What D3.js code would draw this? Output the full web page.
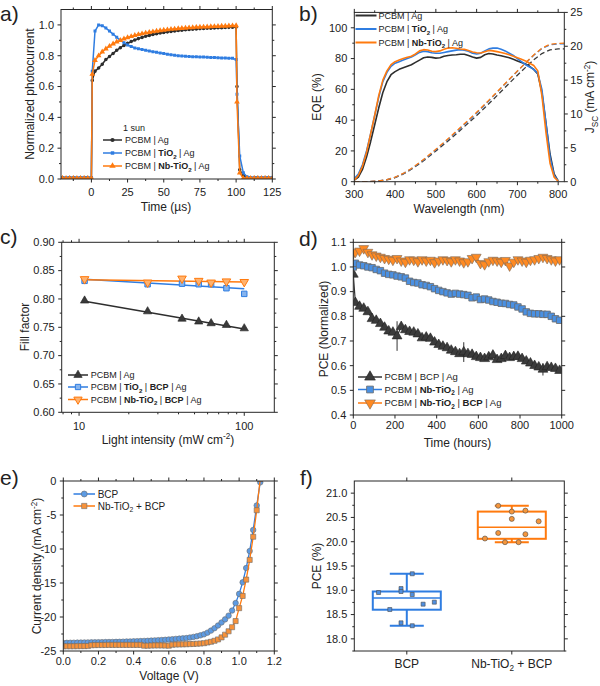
<!DOCTYPE html>
<html><head><meta charset="utf-8">
<script src="https://cdn.jsdelivr.net/npm/d3@7"></script>
<style>
body{margin:0;background:#fff}
svg{display:block}
text{font-family:Arial,"Liberation Sans",Helvetica,sans-serif;fill:#222}
</style></head><body>
<svg id="chart" width="600" height="686"></svg>
<script>
// ---------------- DATA ----------------
// (a) transient photocurrent
const aTime = [-20,-17.5,-15,-12.5,-10,-7.5,-5,-2.5,0,0.6,2.5,5,7.5,10,12.5,15,17.5,20,22.5,25,27.5,30,32.5,35,37.5,40,42.5,45,47.5,50,52.5,55,57.5,60,62.5,65,67.5,70,72.5,75,77.5,80,82.5,85,87.5,90,92.5,95,97.5,100,100.6,102.5,105,107.5,110,112.5,115,117.5,120,122.5,125];
const aBlack = [0.01,0.008,0.01,0.01,0.008,0.01,0.009,0.01,0.01,0.64,0.70,0.72,0.745,0.775,0.795,0.815,0.835,0.852,0.867,0.88,0.892,0.902,0.911,0.919,0.926,0.932,0.938,0.943,0.947,0.951,0.955,0.958,0.961,0.964,0.966,0.968,0.97,0.972,0.974,0.976,0.977,0.978,0.979,0.98,0.981,0.982,0.983,0.984,0.985,0.986,0.6,0.06,0.02,0.01,0.008,0.01,0.01,0.008,0.01,0.009,0.01];
const aBlue = [0.01,0.01,0.008,0.01,0.01,0.009,0.01,0.01,0.01,0.7,0.96,1.0,0.995,0.98,0.96,0.94,0.92,0.9,0.885,0.87,0.86,0.85,0.845,0.84,0.835,0.83,0.826,0.822,0.818,0.814,0.81,0.806,0.803,0.8,0.798,0.796,0.795,0.794,0.793,0.792,0.791,0.79,0.789,0.788,0.787,0.786,0.785,0.784,0.783,0.775,0.55,0.15,0.04,0.015,0.01,0.01,0.008,0.01,0.01,0.009,0.01];
const aOrange = [0.005,0.005,0.005,0.005,0.005,0.005,0.005,0.005,0.005,0.68,0.77,0.8,0.825,0.845,0.862,0.877,0.89,0.9,0.91,0.918,0.925,0.932,0.938,0.943,0.948,0.952,0.956,0.96,0.963,0.966,0.969,0.972,0.974,0.976,0.978,0.98,0.982,0.983,0.985,0.986,0.987,0.988,0.989,0.99,0.991,0.992,0.993,0.994,0.995,0.996,0.5,0.04,0.005,0.005,0.005,0.005,0.005,0.005,0.005,0.005,0.005];

// (b) EQE and integrated Jsc
const bWave = [300,310,320,330,340,350,360,370,380,390,400,410,420,430,440,450,460,470,480,490,500,510,520,530,540,550,560,570,580,590,600,610,620,630,640,650,660,670,680,690,700,710,720,730,740,750,760,770,780,790,800];
const eqeBlack = [1,3,8,16,26,37,48,58,65,69.5,71.5,73,74,75,76,77.5,79,80.5,81,80.8,80.3,80.5,81.5,82,82.3,82.5,82.8,82.8,82,81,80.3,80.8,82.5,83.3,83,82.3,81.8,81.2,80.5,79.5,78.5,77.5,76.5,75,73,70,58,38,18,5,0.5];
const eqeBlue = [2,5,11,20,31,43,55,65,71,75,77,78,79,80,81,82.5,84,84.8,84.5,83.8,83.5,83.5,84,84.5,85,85.5,85.8,85.5,84.8,83.5,83,83.5,85,86.3,86.8,86.8,86,85,83.5,82,80,78,76,74.5,73,70.5,60,38,16,4,0.5];
const eqeOrange = [1,4,10,19,31,43,56,66,72,76,78,79,80,80.8,81.5,83,85,85.8,85.6,84.8,84.5,85,86,86.8,87,86.7,86.2,86,85.3,84.3,83.8,83.6,84.5,85.3,85,84.5,84,83.3,82.5,81.5,80.5,79.5,78.5,77,75.5,72,56,32,12,3,0.3];
const jWave = [300,320,340,360,380,400,420,440,460,480,500,520,540,560,580,600,620,640,660,680,700,720,740,760,780,800,815];
const jscBlack = [0,0,0.02,0.09,0.26,0.59,1.13,1.83,2.65,3.57,4.53,5.52,6.54,7.6,8.68,9.77,10.92,12.11,13.32,14.53,15.73,16.88,17.99,18.92,19.46,19.6,19.6];
const jscBlue = [0,0.01,0.03,0.11,0.3,0.65,1.2,1.92,2.77,3.72,4.71,5.73,6.78,7.88,9.0,10.13,11.32,12.56,13.82,15.08,16.32,17.51,18.66,19.65,20.22,20.35,20.35];
const jscOrange = [0,0.01,0.03,0.11,0.3,0.66,1.22,1.95,2.82,3.78,4.78,5.82,6.89,8.0,9.12,10.25,11.43,12.65,13.88,15.12,16.35,17.55,18.72,19.72,20.3,20.43,20.45];

// (c) fill factor vs light intensity
const cIntensity = [10.8,26,42,53,63,78,100];
const ffBlack = [0.797,0.778,0.765,0.760,0.757,0.754,0.748];
const ffBlue = [0.832,0.826,0.827,0.826,0.826,0.819,0.809];
const ffOrange = [0.835,0.829,0.836,0.832,0.829,0.831,0.830];
const fitX = [10.8,100];
const fitBlack = [0.796,0.747];
const fitBlue = [0.835,0.818];
const fitOrange = [0.834,0.830];

// (d) stability
const dTime = [0,10,30,50,70,90,110,130,150,170,190,210,230,250,270,290,310,330,350,370,390,410,430,450,470,490,510,530,550,570,590,610,630,650,670,690,710,730,750,770,790,810,830,850,870,890,910,930,950,970,990];
const pceBlack = [0.97,0.855,0.84,0.832,0.818,0.79,0.783,0.77,0.755,0.74,0.735,0.72,0.758,0.745,0.738,0.735,0.728,0.712,0.715,0.71,0.695,0.685,0.678,0.672,0.662,0.656,0.648,0.655,0.648,0.645,0.636,0.632,0.628,0.635,0.642,0.624,0.628,0.64,0.632,0.636,0.637,0.628,0.618,0.61,0.6,0.594,0.585,0.595,0.592,0.588,0.58];
const errBlack = [0,0.005,0.005,0.005,0.005,0.005,0.005,0.005,0.005,0.005,0.005,0.06,0.005,0.005,0.005,0.005,0.005,0.005,0.005,0.005,0.005,0.005,0.005,0.005,0.005,0.005,0.005,0.04,0.005,0.005,0.005,0.005,0.005,0.005,0.005,0.005,0.005,0.005,0.005,0.005,0.005,0.005,0.005,0.005,0.005,0.005,0.025,0.005,0.005,0.005,0.005];
const pceBlue = [1.0,1.015,1.008,1.005,1.0,0.997,0.99,0.985,0.975,0.97,0.968,0.963,0.96,0.955,0.942,0.937,0.935,0.928,0.925,0.92,0.912,0.905,0.9,0.895,0.89,0.893,0.89,0.888,0.885,0.875,0.878,0.868,0.87,0.866,0.86,0.857,0.853,0.852,0.848,0.846,0.838,0.83,0.818,0.812,0.81,0.81,0.808,0.808,0.8,0.79,0.784];
const pceOrange = [1.055,1.06,1.065,1.075,1.06,1.05,1.045,1.04,1.035,1.032,1.028,1.035,1.025,1.02,1.03,1.028,1.022,1.03,1.025,1.028,1.018,1.025,1.03,1.027,1.022,1.03,1.025,1.018,1.022,1.035,1.04,1.015,1.01,1.022,1.028,1.025,1.02,1.027,1.005,1.02,1.03,1.025,1.02,1.028,1.03,1.035,1.04,1.035,1.03,1.025,1.03];

// (e) J-V curves
const eVolt = [0,0.02,0.04,0.06,0.08,0.1,0.12,0.14,0.16,0.18,0.2,0.22,0.24,0.26,0.28,0.3,0.32,0.34,0.36,0.38,0.4,0.42,0.44,0.46,0.48,0.5,0.52,0.54,0.56,0.58,0.6,0.62,0.64,0.66,0.68,0.7,0.72,0.74,0.76,0.78,0.8,0.82,0.84,0.86,0.88,0.9,0.92,0.94,0.96,0.98,1.0,1.02,1.04,1.06,1.08,1.1,1.12];
const jBCP = [-23.82,-23.8,-23.79,-23.78,-23.77,-23.76,-23.75,-23.74,-23.73,-23.72,-23.71,-23.7,-23.69,-23.68,-23.67,-23.66,-23.65,-23.63,-23.61,-23.6,-23.58,-23.56,-23.54,-23.52,-23.5,-23.47,-23.44,-23.41,-23.38,-23.35,-23.31,-23.27,-23.22,-23.18,-23.14,-23.1,-23.02,-22.93,-22.83,-22.7,-22.55,-22.3,-22.0,-21.65,-21.25,-20.8,-20.35,-19.8,-19.05,-17.95,-16.6,-14.9,-12.8,-10.3,-7.2,-3.6,-0.2];
const jNb = [-24.3,-24.3,-24.3,-24.3,-24.29,-24.28,-24.28,-24.27,-24.15,-24.13,-24.12,-24.12,-24.11,-24.1,-24.1,-24.1,-24.1,-24.1,-24.1,-24.1,-24.1,-24.1,-24.1,-24.22,-24.22,-24.2,-24.18,-24.18,-24.18,-24.2,-24.22,-24.08,-24.05,-24.03,-24.02,-24.0,-23.98,-23.96,-23.93,-23.9,-23.85,-23.75,-23.65,-23.5,-23.3,-23.0,-22.6,-22.1,-21.5,-20.6,-18.7,-16.9,-14.5,-11.6,-8.2,-4.3,0.3];

// (f) PCE statistics
const fCats = ['BCP','Nb-TiO2 + BCP'];
const bcpPCE = [18.954,19.036,18.975,18.913,18.604,18.714,18.755,18.33,18.27,19.34];
const bcpSpread = [-0.83,-0.17,-0.17,0.16,-0.5,0.48,0.81,-0.17,0.16,0.16];
const nbPCE = [20.74,20.62,20.64,20.47,20.42,20.18,20.155,20.066,19.99,19.99];
const nbSpread = [-0.4,0,0.4,0,0.79,-0.4,0.4,-0.79,-0.2,0.2];
const boxLow = [18.27,19.99], boxQ1 = [18.6,20.06], boxMed = [18.84,20.30], boxQ3 = [18.975,20.62], boxHigh = [19.34,20.74];

// labels
const aLegend = [[{t:'PCBM | Ag'}],[{t:'PCBM | '},{t:'TiO',b:1},{t:'2',b:1,sub:1},{t:' | Ag'}],[{t:'PCBM | '},{t:'Nb-TiO',b:1},{t:'2',b:1,sub:1},{t:' | Ag'}]];
const cLegend = [[{t:'PCBM | Ag'}],[{t:'PCBM | '},{t:'TiO',b:1},{t:'2',b:1,sub:1},{t:' | '},{t:'BCP',b:1},{t:' | Ag'}],[{t:'PCBM | '},{t:'Nb-TiO',b:1},{t:'2',b:1,sub:1},{t:' | '},{t:'BCP',b:1},{t:' | Ag'}]];
const dLegend = [[{t:'PCBM | BCP | Ag'}],[{t:'PCBM | '},{t:'Nb-TiO',b:1},{t:'2',b:1,sub:1},{t:' | Ag'}],[{t:'PCBM | '},{t:'Nb-TiO',b:1},{t:'2',b:1,sub:1},{t:' | '},{t:'BCP',b:1},{t:' | Ag'}]];
const eLegend = [[{t:'BCP'}],[{t:'Nb-TiO'},{t:'2',sub:1},{t:' + BCP'}]];

// ---------------- DRAWING ----------------
const svg = d3.select('#chart');
const BLACK = '#2e2e2e', BLUE = '#2f7de1', ORANGE = '#ff7a0e', AX = '#262626';
const TICKFS = 11, TITLEFS = 12;

function rich(sel, parts, fs) {
  let cur = 0;
  parts.forEach(p => {
    const ts = sel.append('tspan').text(p.t);
    const target = p.sub ? fs * 0.28 : (p.sup ? -fs * 0.38 : 0);
    if (target !== cur) { ts.attr('dy', target - cur); cur = target; }
    if (p.sub || p.sup) ts.attr('font-size', fs * 0.68);
    if (p.b) ts.attr('font-weight', 'bold');
  });
}

function axes(g, x, y, o) {
  const [xl, xr] = x.range(); const [yb, yt] = y.range();
  const s = g.append('g').attr('stroke', AX).attr('stroke-width', 1).attr('fill', 'none');
  const seg = (x1, y1, x2, y2) => s.append('line').attr('x1', x1).attr('y1', y1).attr('x2', x2).attr('y2', y2);
  const ML = 3.5, ml = 2;
  const xOff = o.xOff || 16.5;
  (o.xMajor || []).forEach(v => { const p = x(v); seg(p, yb, p, yb + ML); seg(p, yt, p, yt - ML); });
  (o.xMinor || []).forEach(v => { const p = x(v); seg(p, yb, p, yb + ml); seg(p, yt, p, yt - ml); });
  (o.yMajor || []).forEach(v => { const p = y(v); seg(xl, p, xl - ML, p); if (!o.yR) seg(xr, p, xr + ML, p); });
  (o.yMinor || []).forEach(v => { const p = y(v); seg(xl, p, xl - ml, p); if (!o.yR) seg(xr, p, xr + ml, p); });
  if (o.yR) {
    o.yRMajor.forEach(v => { const p = o.yR(v); seg(xr, p, xr + ML, p); });
    o.yRMinor.forEach(v => { const p = o.yR(v); seg(xr, p, xr + ml, p); });
    o.yRMajor.forEach(v => g.append('text').attr('x', xr + 6).attr('y', o.yR(v)).attr('dy', '0.35em')
      .attr('font-size', TICKFS).text(o.yRFmt(v)));
  }
  s.append('rect').attr('x', xl).attr('y', yt).attr('width', xr - xl).attr('height', yb - yt);
  (o.xMajor || []).forEach(v => {
    const t = g.append('text').attr('x', x(v)).attr('y', yb + xOff).attr('text-anchor', 'middle').attr('font-size', o.xFs || TICKFS);
    if (o.xRich) rich(t, o.xRich(v), o.xFs || TICKFS); else t.text(o.xFmt(v));
  });
  (o.yMajor || []).forEach(v => g.append('text').attr('x', xl - 7).attr('y', y(v)).attr('dy', '0.35em')
    .attr('text-anchor', 'end').attr('font-size', TICKFS).text(o.yFmt(v)));
}

function xTitle(parts, cx, y) {
  const t = svg.append('text').attr('x', cx).attr('y', y).attr('text-anchor', 'middle').attr('font-size', TITLEFS);
  rich(t, parts, TITLEFS);
}
function yTitle(parts, x, cy) {
  const t = svg.append('text').attr('transform', `translate(${x},${cy}) rotate(-90)`)
    .attr('text-anchor', 'middle').attr('dy', '0.35em').attr('font-size', TITLEFS);
  rich(t, parts, TITLEFS);
}
function panelLabel(txt, x, y) {
  svg.append('text').attr('x', x).attr('y', y).attr('font-size', 21).text(txt);
}
let clipN = 0;
function clipped(x, y) {
  const id = 'clip' + (clipN++);
  const [xl, xr] = x.range(); const [yb, yt] = y.range();
  svg.append('clipPath').attr('id', id).append('rect').attr('x', xl).attr('y', yt).attr('width', xr - xl).attr('height', yb - yt);
  return svg.append('g').attr('clip-path', `url(#${id})`);
}
function sym(type, size) {
  return d3.symbol().type(type).size(size)();
}
function markers(g, xs, ys, xf, yf, type, size, fill, stroke, sw, rot) {
  const p = sym(type, size);
  g.append('g').selectAll('path').data(ys).join('path')
    .attr('d', p)
    .attr('transform', (d, i) => `translate(${xf(xs[i])},${yf(d)})` + (rot ? ' rotate(180)' : ''))
    .attr('fill', fill).attr('stroke', stroke).attr('stroke-width', sw);
}
function line(g, xs, ys, xf, yf, color, w, dash) {
  const l = d3.line().x((d, i) => xf(xs[i])).y(d => yf(d));
  const p = g.append('path').attr('d', l(ys)).attr('fill', 'none').attr('stroke', color).attr('stroke-width', w).attr('stroke-linejoin', 'round');
  if (dash) p.attr('stroke-dasharray', dash);
}
function legend(items, x0, x1, tx, ys, fs) {
  items.forEach((it, i) => {
    const y = ys[i];
    svg.append('line').attr('x1', x0).attr('x2', x1).attr('y1', y).attr('y2', y).attr('stroke', it.color).attr('stroke-width', it.lw || 1.5);
    if (it.type) svg.append('path').attr('d', sym(it.type, it.size))
      .attr('transform', `translate(${(x0 + x1) / 2},${y})` + (it.rot ? ' rotate(180)' : ''))
      .attr('fill', it.fill).attr('stroke', it.stroke).attr('stroke-width', it.sw || 0.6);
    const t = svg.append('text').attr('x', tx).attr('y', y).attr('dy', '0.35em').attr('font-size', fs);
    rich(t, it.parts, fs);
  });
}
const f1 = d3.format('.1f'), f2 = d3.format('.2f');

// ---------- panel a ----------
{
  const x = d3.scaleLinear().domain([-21, 125]).range([61, 272.3]);
  const y = d3.scaleLinear().domain([0, 1.1]).range([179, 9.5]);
  const g = clipped(x, y);
  line(g, aTime, aBlack, x, y, BLACK, 1.5);
  markers(g, aTime, aBlack, x, y, d3.symbolCircle, 10, BLACK, 'none', 0);
  line(g, aTime, aBlue, x, y, BLUE, 1.5);
  markers(g, aTime, aBlue, x, y, d3.symbolSquare, 9, BLUE, 'none', 0);
  line(g, aTime, aOrange, x, y, ORANGE, 1.5);
  markers(g, aTime, aOrange, x, y, d3.symbolTriangle, 14, ORANGE, 'none', 0);
  axes(svg.append('g'), x, y, {
    xMajor: [0, 25, 50, 75, 100, 125], xMinor: [-12.5, 12.5, 37.5, 62.5, 87.5, 112.5], xFmt: d => d, xOff: 16.5,
    yMajor: [0, 0.2, 0.4, 0.6, 0.8, 1.0], yMinor: [0.1, 0.3, 0.5, 0.7, 0.9], yFmt: f1
  });
  svg.append('text').attr('x', 123).attr('y', 128).attr('dy', '0.35em').attr('font-size', 9).text('1 sun');
  legend([
    {parts: aLegend[0], color: BLACK, type: d3.symbolCircle, size: 14, fill: BLACK, stroke: 'none'},
    {parts: aLegend[1], color: BLUE, type: d3.symbolSquare, size: 12, fill: BLUE, stroke: 'none'},
    {parts: aLegend[2], color: ORANGE, type: d3.symbolTriangle, size: 18, fill: ORANGE, stroke: 'none'}
  ], 103, 122, 125, [140, 153, 166], 9);
  yTitle([{t: 'Normalized photocurrent'}], 30, 94);
  xTitle([{t: 'Time (µs)'}], 166, 211);
  panelLabel('a)', 0, 21);
}

// ---------- panel b ----------
{
  const x = d3.scaleLinear().domain([300, 815]).range([354.3, 564.3]);
  const y = d3.scaleLinear().domain([0, 110]).range([181.7, 12.4]);
  const yR = d3.scaleLinear().domain([0, 25]).range([181.7, 12.4]);
  const g = clipped(x, y);
  line(g, jWave, jscBlack, x, yR, '#3a3a3a', 1.3, '5,3');
  line(g, jWave, jscBlue, x, yR, BLUE, 1.3, '5,3');
  line(g, jWave, jscOrange, x, yR, ORANGE, 1.3, '5,3');
  line(g, bWave, eqeBlack, x, y, BLACK, 1.6);
  line(g, bWave, eqeBlue, x, y, BLUE, 1.6);
  line(g, bWave, eqeOrange, x, y, ORANGE, 1.6);
  axes(svg.append('g'), x, y, {
    xMajor: [300, 400, 500, 600, 700, 800], xMinor: [350, 450, 550, 650, 750], xFmt: d => d, xOff: 15.8,
    yMajor: [0, 20, 40, 60, 80, 100], yMinor: [10, 30, 50, 70, 90], yFmt: d => d,
    yR: yR, yRMajor: [0, 5, 10, 15, 20, 25], yRMinor: [2.5, 7.5, 12.5, 17.5, 22.5], yRFmt: d => d
  });
  legend([
    {parts: aLegend[0], color: BLACK, lw: 2},
    {parts: aLegend[1], color: BLUE, lw: 2},
    {parts: aLegend[2], color: ORANGE, lw: 2}
  ], 355.5, 376.5, 378.5, [15.5, 29, 42.5], 9);
  yTitle([{t: 'EQE (%)'}], 316.5, 97);
  yTitle([{t: 'J'}, {t: 'SC', sub: 1}, {t: ' (mA cm'}, {t: '-2', sup: 1}, {t: ')'}], 590, 97);
  xTitle([{t: 'Wavelength (nm)'}], 459, 213);
  panelLabel('b)', 299, 21);
}

// ---------- panel c ----------
{
  const x = d3.scaleLog().domain([7.85, 152]).range([61.7, 274.3]);
  const y = d3.scaleLinear().domain([0.6, 0.9]).range([412.3, 242.3]);
  const g = clipped(x, y);
  line(g, fitX, fitBlack, x, y, BLACK, 1.5);
  line(g, fitX, fitBlue, x, y, BLUE, 1.5);
  line(g, fitX, fitOrange, x, y, ORANGE, 1.5);
  markers(g, cIntensity, ffBlack, x, y, d3.symbolTriangle, 30, '#3a3a3a', '#222', 0.6);
  markers(g, cIntensity, ffBlue, x, y, d3.symbolSquare, 30, '#86b4ee', BLUE, 1);
  markers(g, cIntensity, ffOrange, x, y, d3.symbolTriangle, 32, '#ffb26e', ORANGE, 1, true);
  axes(svg.append('g'), x, y, {
    xMajor: [10, 100], xMinor: [8, 9, 20, 30, 40, 50, 60, 70, 80, 90], xFmt: d => d, xOff: 17.5,
    yMajor: [0.6, 0.65, 0.7, 0.75, 0.8, 0.85, 0.9], yMinor: [0.625, 0.675, 0.725, 0.775, 0.825, 0.875], yFmt: f2
  });
  legend([
    {parts: cLegend[0], color: BLACK, type: d3.symbolTriangle, size: 30, fill: '#3a3a3a', stroke: '#222'},
    {parts: cLegend[1], color: BLUE, type: d3.symbolSquare, size: 28, fill: '#86b4ee', stroke: BLUE, sw: 1},
    {parts: cLegend[2], color: ORANGE, type: d3.symbolTriangle, size: 30, fill: '#ffb26e', stroke: ORANGE, sw: 1, rot: true}
  ], 68, 88, 90.7, [375, 387, 399.5], 9);
  yTitle([{t: 'Fill factor'}], 25, 327);
  xTitle([{t: 'Light intensity (mW cm'}, {t: '-2', sup: 1}, {t: ')'}], 168, 443.5);
  panelLabel('c)', 0, 244);
}

// ---------- panel d ----------
{
  const x = d3.scaleLinear().domain([0, 1000]).range([353.3, 561.7]);
  const y = d3.scaleLinear().domain([0.4, 1.1]).range([415, 242.3]);
  const g = clipped(x, y);
  g.append('g').selectAll('line').data(pceBlack).join('line')
    .attr('x1', (d, i) => x(dTime[i])).attr('x2', (d, i) => x(dTime[i]))
    .attr('y1', (d, i) => y(d - errBlack[i])).attr('y2', (d, i) => y(d + errBlack[i]))
    .attr('stroke', '#333').attr('stroke-width', 1);
  line(g, dTime, pceBlack, x, y, '#333', 1.2);
  markers(g, dTime, pceBlack, x, y, d3.symbolTriangle, 42, '#3b3b3b', '#222', 0.6);
  line(g, dTime, pceBlue, x, y, BLUE, 1.2);
  markers(g, dTime, pceBlue, x, y, d3.symbolSquare, 42, '#4a90e2', '#6a6a6a', 0.8);
  line(g, dTime, pceOrange, x, y, ORANGE, 1.2);
  markers(g, dTime, pceOrange, x, y, d3.symbolTriangle, 42, '#ff8a22', '#7a6a5a', 0.6, true);
  axes(svg.append('g'), x, y, {
    xMajor: [0, 200, 400, 600, 800, 1000], xMinor: [], xFmt: d => d, xOff: 13.5,
    yMajor: [0.4, 0.5, 0.6, 0.7, 0.8, 0.9, 1.0, 1.1], yMinor: [], yFmt: f1
  });
  legend([
    {parts: dLegend[0], color: '#333', type: d3.symbolTriangle, size: 50, fill: '#3b3b3b', stroke: '#222'},
    {parts: dLegend[1], color: BLUE, type: d3.symbolSquare, size: 46, fill: '#4a90e2', stroke: '#6a6a6a', sw: 0.8},
    {parts: dLegend[2], color: ORANGE, type: d3.symbolTriangle, size: 50, fill: '#ff8a22', stroke: '#7a6a5a', rot: true}
  ], 358, 382, 384.5, [377, 389.5, 403], 9.5);
  yTitle([{t: 'PCE (Normalized)'}], 323.5, 329);
  xTitle([{t: 'Time (hours)'}], 457.5, 446.5);
  panelLabel('d)', 299, 246);
}

// ---------- panel e ----------
{
  const x = d3.scaleLinear().domain([0, 1.2]).range([63.3, 274.3]);
  const y = d3.scaleLinear().domain([-25, 0]).range([651, 481]);
  const g = clipped(x, y);
  line(g, eVolt, jBCP, x, y, BLUE, 1.3);
  markers(g, eVolt, jBCP, x, y, d3.symbolCircle, 24, '#5d9be3', '#6b6b6b', 0.6);
  line(g, eVolt, jNb, x, y, ORANGE, 1.3);
  markers(g, eVolt, jNb, x, y, d3.symbolSquare, 26, '#f7923a', '#6b6b6b', 0.6);
  axes(svg.append('g'), x, y, {
    xMajor: [0, 0.2, 0.4, 0.6, 0.8, 1.0, 1.2], xMinor: [0.1, 0.3, 0.5, 0.7, 0.9, 1.1], xFmt: f1, xOff: 13.5,
    yMajor: [-25, -20, -15, -10, -5, 0], yMinor: [-22.5, -17.5, -12.5, -7.5, -2.5], yFmt: d => String(d)
  });
  legend([
    {parts: eLegend[0], color: BLUE, type: d3.symbolCircle, size: 28, fill: '#5d9be3', stroke: '#6b6b6b'},
    {parts: eLegend[1], color: ORANGE, type: d3.symbolSquare, size: 28, fill: '#f7923a', stroke: '#6b6b6b'}
  ], 73.5, 95, 97.7, [494, 506], 10);
  yTitle([{t: 'Current density (mA cm'}, {t: '-2', sup: 1}, {t: ')'}], 37, 566);
  xTitle([{t: 'Voltage (V)'}], 169, 680);
  panelLabel('e)', 0, 485);
}

// ---------- panel f ----------
{
  const x = d3.scalePoint().domain(fCats).range([354.3, 564.3]).padding(0.5);
  const y = d3.scaleLinear().domain([17.75, 21.25]).range([651, 481]);
  const g = svg.append('g');
  const colors = [BLUE, ORANGE], fills = ['#4f8fe0', '#f5963c'];
  const boxW = 68, capW = 34;
  fCats.forEach((c, i) => {
    const cx = x(c), col = colors[i];
    const bg = g.append('g').attr('stroke', col).attr('stroke-width', 2).attr('fill', 'none');
    bg.append('line').attr('x1', cx).attr('x2', cx).attr('y1', y(boxHigh[i])).attr('y2', y(boxQ3[i]));
    bg.append('line').attr('x1', cx).attr('x2', cx).attr('y1', y(boxLow[i])).attr('y2', y(boxQ1[i]));
    bg.append('line').attr('x1', cx - capW / 2).attr('x2', cx + capW / 2).attr('y1', y(boxHigh[i])).attr('y2', y(boxHigh[i]));
    bg.append('line').attr('x1', cx - capW / 2).attr('x2', cx + capW / 2).attr('y1', y(boxLow[i])).attr('y2', y(boxLow[i]));
    bg.append('rect').attr('x', cx - boxW / 2).attr('y', y(boxQ3[i])).attr('width', boxW).attr('height', y(boxQ1[i]) - y(boxQ3[i]));
    bg.append('line').attr('x1', cx - boxW / 2).attr('x2', cx + boxW / 2).attr('y1', y(boxMed[i])).attr('y2', y(boxMed[i])).attr('stroke-width', 1.5);
  });
  const pts = [[bcpPCE, bcpSpread, d3.symbolSquare, 16], [nbPCE, nbSpread, d3.symbolCircle, 20]];
  pts.forEach(([vals, spr, type, size], i) => {
    const cx = x(fCats[i]);
    g.append('g').selectAll('path').data(vals).join('path')
      .attr('d', sym(type, size))
      .attr('transform', (d, j) => `translate(${cx + spr[j] * boxW / 2},${y(d)})`)
      .attr('fill', fills[i]).attr('stroke', '#4a4a4a').attr('stroke-width', 0.6);
  });
  axes(svg.append('g'), x, y, {
    xMajor: fCats, xMinor: [], xFs: 12, xOff: 16.5,
    xRich: d => d === 'BCP' ? [{t: 'BCP'}] : [{t: 'Nb-TiO'}, {t: '2', sub: 1}, {t: ' + BCP'}],
    yMajor: [18, 18.5, 19, 19.5, 20, 20.5, 21], yMinor: [17.75, 18.25, 18.75, 19.25, 19.75, 20.25, 20.75], yFmt: f1
  });
  yTitle([{t: 'PCE (%)'}], 316.5, 566);
  panelLabel('f)', 300, 485);
}
</script>
</body></html>
